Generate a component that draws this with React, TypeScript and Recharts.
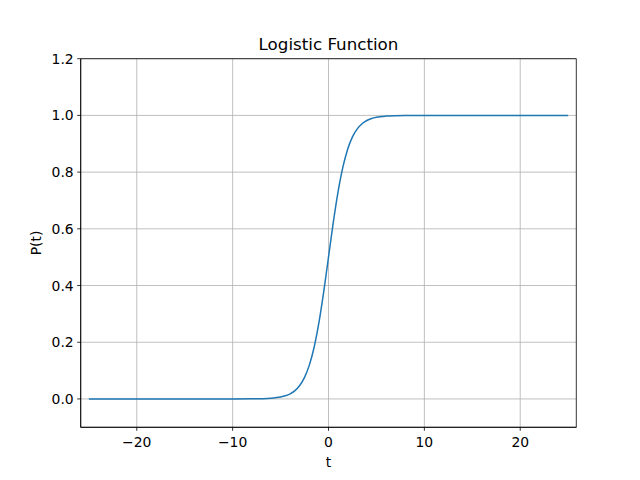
import React from 'react';
import { LineChart, Line, XAxis, YAxis, CartesianGrid, ReferenceArea } from 'recharts';

const tValues = [-25, -20, -15, -10, -8, -7, -6, -5, -4.5, -4, -3.5, -3, -2.5, -2, -1.5, -1, -0.5, 0, 0.5, 1, 1.5, 2, 2.5, 3, 3.5, 4, 4.5, 5, 6, 7, 8, 10, 15, 20, 25];
const pValues = [0, 0, 0, 0.0000454, 0.000335, 0.000911, 0.00247, 0.00669, 0.011, 0.018, 0.0293, 0.0474, 0.0759, 0.1192, 0.1824, 0.2689, 0.3775, 0.5, 0.6225, 0.7311, 0.8176, 0.8808, 0.9241, 0.9526, 0.9707, 0.982, 0.989, 0.9933, 0.9975, 0.9991, 0.9997, 1, 1, 1, 1];
const xTicks = [-20, -10, 0, 10, 20];
const yTicks = [0, 0.2, 0.4, 0.6, 0.8, 1.0, 1.2];
const xDomain = [-25.85, 25.85];
const yDomain = [-0.1, 1.2];
const title = 'Logistic Function';
const xLabel = 't';
const yLabel = 'P(t)';

const data = tValues.map((t, i) => ({ t, p: pValues[i] }));

const FONT = 'DejaVu Sans, sans-serif';

const fmtX = (v: number) => (v < 0 ? '\u2212' + Math.abs(v) : String(v));

const XTick = (props: any) => {
  const { x, y, payload } = props;
  return (
    <text x={x} y={y + 16.5} textAnchor="middle" fontFamily={FONT} fontSize={13.9} fill="#000">
      {fmtX(payload.value)}
    </text>
  );
};

const YTick = (props: any) => {
  const { x, y, payload } = props;
  return (
    <text x={x} y={y + 5} textAnchor="end" fontFamily={FONT} fontSize={13.9} fill="#000">
      {Number(payload.value).toFixed(1)}
    </text>
  );
};

export default function App() {
  return (
    <div style={{ position: 'absolute', left: 0, top: 0, width: 640, height: 480, background: '#fff' }}>
      <LineChart width={640} height={480} data={data} margin={{ top: 58.7, right: 63.7, bottom: 0, left: 0 }}>
        <CartesianGrid stroke="#b0b0b0" strokeWidth={0.8} verticalValues={xTicks} horizontalValues={yTicks} />
        <XAxis
          dataKey="t"
          type="number"
          domain={xDomain}
          ticks={xTicks}
          allowDataOverflow
          height={52.7}
          tickSize={3.5}
          tickMargin={0}
          axisLine={{ stroke: '#000', strokeWidth: 0.8 }}
          tickLine={{ stroke: '#000', strokeWidth: 0.8 }}
          tick={<XTick />}
          interval={0}
        />
        <YAxis
          type="number"
          domain={yDomain}
          ticks={yTicks}
          allowDataOverflow
          width={80.7}
          tickSize={3.5}
          tickMargin={3.5}
          axisLine={{ stroke: '#000', strokeWidth: 0.8 }}
          tickLine={{ stroke: '#000', strokeWidth: 0.8 }}
          tick={<YTick />}
          interval={0}
        />
        <ReferenceArea
          x1={xDomain[0]}
          x2={xDomain[1]}
          y1={yDomain[0]}
          y2={yDomain[1]}
          fill="none"
          fillOpacity={0}
          stroke="#000"
          strokeWidth={0.8}
          ifOverflow="visible"
        />
        <Line
          type="monotone"
          dataKey="p"
          stroke="#1f77b4"
          strokeWidth={1.5}
          dot={false}
          isAnimationActive={false}
        />
      </LineChart>
      <svg width={640} height={480} style={{ position: 'absolute', left: 0, top: 0, pointerEvents: 'none' }}>
        <text x={328.5} y={50} textAnchor="middle" fontFamily={FONT} fontSize={16.7} fill="#000">
          {title}
        </text>
        <text x={328.5} y={467} textAnchor="middle" fontFamily={FONT} fontSize={13.9} fill="#000">
          {xLabel}
        </text>
        <text
          x={0}
          y={0}
          transform="translate(40.5,243) rotate(-90)"
          textAnchor="middle"
          fontFamily={FONT}
          fontSize={13.9}
          fill="#000"
        >
          {yLabel}
        </text>
      </svg>
    </div>
  );
}
